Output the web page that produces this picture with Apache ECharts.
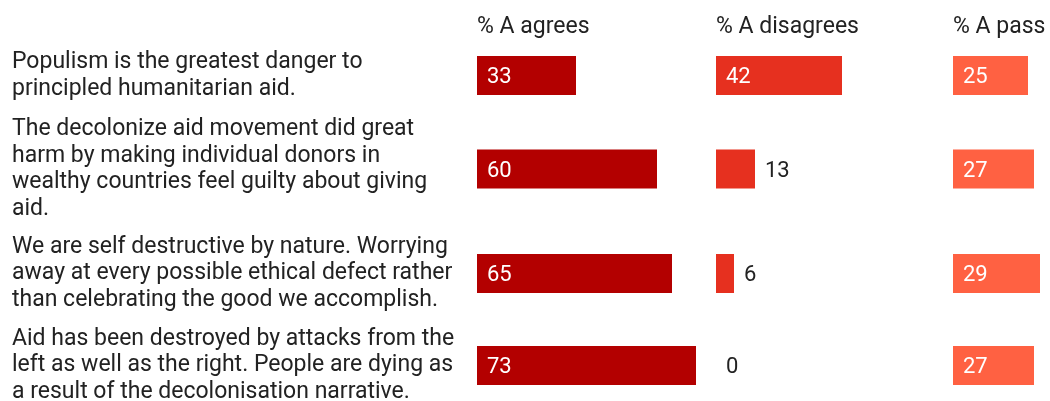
<!DOCTYPE html>
<html>
<head>
<meta charset="utf-8">
<script src="https://cdn.jsdelivr.net/npm/echarts@6/dist/echarts.min.js"></script>
<style>html,body{margin:0;padding:0;background:#fff}#c{width:1050px;height:401px}</style>
</head>
<body>
<div id="c"></div>
<script>
const categories = [
  "Populism is the greatest danger to\nprincipled humanitarian aid.",
  "The decolonize aid movement did great\nharm by making individual donors in\nwealthy countries feel guilty about giving\naid.",
  "We are self destructive by nature. Worrying\naway at every possible ethical defect rather\nthan celebrating the good we accomplish.",
  "Aid has been destroyed by attacks from the\nleft as well as the right. People are dying as\na result of the decolonisation narrative."
];
const panelTitles = ["% A agrees", "% A disagrees", "% A pass"];
const agrees = [33, 60, 65, 73];
const disagrees = [42, 13, 6, 0];
const passes = [25, 27, 29, 27];

const panels = [agrees, disagrees, passes];
const colors = ['#b30000', '#e6301f', '#ff6142'];
const panelLeft = [477, 716, 953];
const panelMax = [75, 75, 30];
const rowTop = [56, 149.5, 254, 346];
const labelShift = [-3, 4, 7, 3];
const FONT = 'Roboto';

const grid = [], xAxis = [], yAxis = [], series = [];
let gi = 0;
panels.forEach((vals, p) => {
  vals.forEach((v, r) => {
    grid.push({left: panelLeft[p], top: rowTop[r], width: panelMax[p] * 3, height: 39,
               containLabel: false, outerBoundsMode: 'none'});
    xAxis.push({gridIndex: gi, type: 'value', min: 0, max: panelMax[p], show: false});
    const shift = labelShift[r];
    yAxis.push({
      gridIndex: gi, type: 'category', data: [categories[r]],
      axisLine: {show: false}, axisTick: {show: false}, splitLine: {show: false},
      axisLabel: p === 0 ? {
        show: true, align: 'left', margin: 465, fontFamily: FONT, fontSize: 23,
        lineHeight: 26.5, color: '#222',
        padding: shift > 0 ? [0, 0, 2 * shift, 0] : [-2 * shift, 0, 0, 0]
      } : {show: false}
    });
    const small = v < 20;
    series.push({
      type: 'bar', xAxisIndex: gi, yAxisIndex: gi, barWidth: 39,
      name: panelTitles[p],
      itemStyle: {color: colors[p]},
      label: {
        show: true, position: small ? 'right' : 'insideLeft', distance: 10, offset: [0, 2],
        fontFamily: FONT, fontSize: 22, color: small ? '#222' : '#fff'
      },
      data: [v], silent: true
    });
    gi++;
  });
});

const title = panelTitles.map((t, p) => ({
  text: t, left: panelLeft[p], top: 16, padding: 0,
  textStyle: {fontFamily: FONT, fontSize: 23, fontWeight: 'normal', color: '#222'}
}));

const chart = echarts.init(document.getElementById('c'), null, {renderer: 'canvas'});
chart.setOption({animation: false, title, grid, xAxis, yAxis, series});
</script>
</body>
</html>
